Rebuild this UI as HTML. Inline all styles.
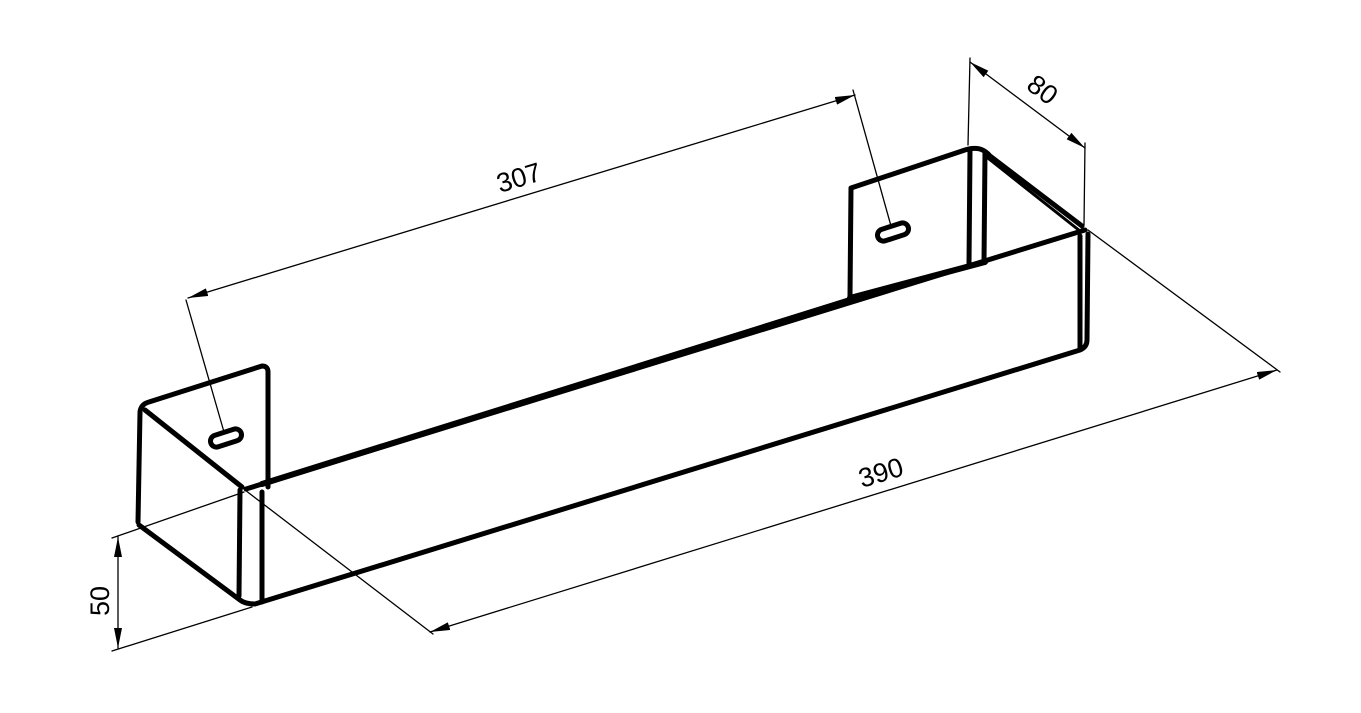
<!DOCTYPE html>
<html><head><meta charset="utf-8"><style>
html,body{margin:0;padding:0;background:#fff;}
svg{display:block;}
text{font-family:"Liberation Sans",sans-serif;font-size:27px;fill:#000;}
</style></head><body>
<svg width="1361" height="713" viewBox="0 0 1361 713" xmlns="http://www.w3.org/2000/svg">
<defs>
<marker id="a" viewBox="0 0 20 8" refX="20" refY="4" markerWidth="20" markerHeight="8" markerUnits="userSpaceOnUse" orient="auto-start-reverse">
<path d="M0,0 L20,4 L0,8 Z" fill="#000"/>
</marker>
</defs>
<g stroke="#000" fill="none" stroke-linecap="round" stroke-linejoin="round">
<g stroke-width="1.3">
<line x1="188" y1="298" x2="855" y2="95" marker-start="url(#a)" marker-end="url(#a)"/>
<line x1="186" y1="300" x2="224" y2="432"/>
<line x1="853" y1="90" x2="891" y2="226"/>
<line x1="970" y1="58" x2="968" y2="145"/>
<line x1="1085" y1="143" x2="1084" y2="225"/>
<line x1="970" y1="62" x2="1085" y2="148" marker-start="url(#a)" marker-end="url(#a)"/>
<line x1="430" y1="632" x2="1277" y2="370" marker-start="url(#a)" marker-end="url(#a)"/>
<line x1="245" y1="490" x2="433" y2="634"/>
<line x1="1088" y1="230" x2="1280" y2="372"/>
<line x1="118" y1="537" x2="118" y2="648" marker-start="url(#a)" marker-end="url(#a)"/>
<line x1="244" y1="492" x2="112" y2="538"/>
<line x1="252" y1="607" x2="112" y2="651"/>
</g>
<g stroke-width="5">
<path d="M138,522 L140,412 Q141,404 149,402 L262,366 Q268,366 268,372 L268,487"/>
<line x1="145" y1="410" x2="242" y2="487"/>
<line x1="240" y1="490" x2="239" y2="596"/>
<line x1="262" y1="492" x2="262" y2="602"/>
<path d="M139,525 L240,600 Q245,604 255,604 L1080,350 Q1087,347 1087,340 L1088,234"/>
<line x1="1080" y1="236" x2="1080" y2="348"/>
<line x1="246" y1="489" x2="1085" y2="230"/>
<line x1="262" y1="484" x2="850" y2="300" stroke-width="6"/>
<line x1="850" y1="298" x2="985" y2="262" stroke-width="6"/>
<path d="M850,296 L851,188 L962,151 Q972,147 980,149 Q986,151 990,156 L1082,226"/>
<line x1="984" y1="155" x2="1080" y2="231" stroke-width="3"/>
<line x1="970" y1="150" x2="969" y2="264"/>
<line x1="985" y1="152" x2="984" y2="262"/>
</g>
<g stroke-width="5" fill="#fff">
<rect x="210" y="432" width="32" height="12" rx="6" transform="rotate(-18 226 438)"/>
<rect x="877" y="226" width="32" height="12" rx="6" transform="rotate(-18 893 232)"/>
</g>
</g>
<text transform="translate(500,193) rotate(-17)">307</text>
<text transform="translate(1025,88) rotate(37)">80</text>
<text transform="translate(862,488) rotate(-17)">390</text>
<text transform="translate(109,616) rotate(-90)">50</text>
</svg>
</body></html>
